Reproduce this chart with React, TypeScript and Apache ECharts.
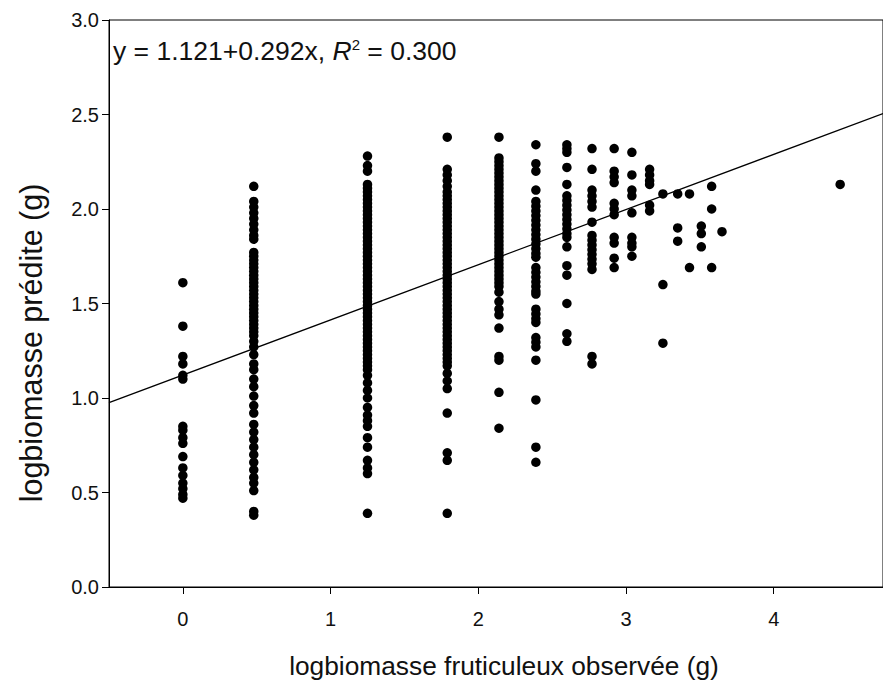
import React, { useEffect, useRef } from "react";
import * as echarts from "echarts";

// x positions of the observed columns (logbiomasse fruticuleux observée)
const xLevels = [0, 0.48, 1.25, 1.79, 2.14, 2.39, 2.6, 2.77, 2.92, 3.04, 3.16, 3.25, 3.35, 3.43, 3.51, 3.58, 3.65, 4.45];

// predicted values read from each column
const col000 = [1.61, 1.38, 1.22, 1.18, 1.12, 1.10, 0.85, 0.83, 0.79, 0.76, 0.69, 0.63, 0.59, 0.55, 0.52, 0.49, 0.47];
const col048 = [2.12, 2.04, 2.01, 1.98, 1.95, 1.92, 1.89, 1.86, 1.84, 1.77, 1.75, 1.73, 1.71, 1.69, 1.67, 1.65, 1.63, 1.61, 1.59, 1.57, 1.55, 1.53, 1.51, 1.49, 1.47, 1.45, 1.43, 1.41, 1.39, 1.37, 1.35, 1.33, 1.30, 1.27, 1.23, 1.18, 1.15, 1.10, 1.06, 1.01, 0.96, 0.92, 0.86, 0.82, 0.78, 0.74, 0.70, 0.66, 0.62, 0.58, 0.55, 0.51, 0.40, 0.38];
const col125 = [2.28, 2.23, 2.20, 2.13, 2.11, 2.09, 2.07, 2.05, 2.03, 2.01, 1.99, 1.97, 1.95, 1.93, 1.91, 1.89, 1.87, 1.85, 1.83, 1.81, 1.79, 1.77, 1.75, 1.73, 1.71, 1.69, 1.67, 1.65, 1.63, 1.61, 1.59, 1.57, 1.55, 1.53, 1.51, 1.49, 1.47, 1.45, 1.43, 1.41, 1.39, 1.37, 1.35, 1.33, 1.31, 1.29, 1.27, 1.25, 1.23, 1.21, 1.19, 1.17, 1.15, 1.12, 1.08, 1.04, 1.00, 0.95, 0.91, 0.88, 0.85, 0.79, 0.74, 0.67, 0.63, 0.60, 0.39];
const col179 = [2.38, 2.21, 2.18, 2.15, 2.12, 2.09, 2.07, 2.05, 2.03, 2.01, 1.99, 1.97, 1.95, 1.93, 1.91, 1.89, 1.87, 1.85, 1.83, 1.81, 1.79, 1.77, 1.75, 1.73, 1.71, 1.69, 1.67, 1.65, 1.63, 1.61, 1.59, 1.57, 1.55, 1.53, 1.51, 1.49, 1.47, 1.45, 1.43, 1.41, 1.39, 1.37, 1.35, 1.33, 1.31, 1.29, 1.27, 1.25, 1.23, 1.21, 1.19, 1.17, 1.13, 1.09, 1.05, 0.92, 0.71, 0.67, 0.39];
const col214 = [2.38, 2.27, 2.25, 2.23, 2.21, 2.19, 2.17, 2.15, 2.13, 2.11, 2.09, 2.07, 2.05, 2.03, 2.01, 1.99, 1.97, 1.95, 1.93, 1.91, 1.89, 1.87, 1.85, 1.83, 1.81, 1.79, 1.77, 1.75, 1.73, 1.71, 1.69, 1.67, 1.65, 1.63, 1.61, 1.59, 1.56, 1.51, 1.47, 1.44, 1.37, 1.22, 1.20, 1.03, 0.84];
const col239 = [2.34, 2.24, 2.20, 2.10, 2.04, 2.015, 1.99, 1.965, 1.94, 1.915, 1.89, 1.865, 1.84, 1.815, 1.79, 1.765, 1.745, 1.69, 1.665, 1.64, 1.615, 1.59, 1.565, 1.55, 1.47, 1.445, 1.42, 1.40, 1.32, 1.295, 1.27, 1.20, 0.99, 0.74, 0.66];
const col260 = [2.34, 2.32, 2.30, 2.22, 2.13, 2.07, 2.045, 2.02, 1.995, 1.97, 1.945, 1.92, 1.895, 1.87, 1.85, 1.80, 1.70, 1.65, 1.50, 1.34, 1.30];
const col277 = [2.32, 2.21, 2.10, 2.07, 2.04, 2.01, 1.93, 1.86, 1.835, 1.81, 1.785, 1.76, 1.735, 1.71, 1.68, 1.22, 1.18];
const col292 = [2.32, 2.20, 2.17, 2.14, 2.03, 2.00, 1.97, 1.85, 1.82, 1.74, 1.69];
const col304 = [2.30, 2.18, 2.10, 2.07, 1.98, 1.85, 1.82, 1.80, 1.75];
const col316 = [2.21, 2.18, 2.15, 2.13, 2.02, 1.99];
const col325 = [2.08, 1.60, 1.29];
const col335 = [2.08, 1.90, 1.83];
const col343 = [2.08, 1.69];
const col351 = [1.91, 1.87, 1.80];
const col358 = [2.12, 2.00, 1.69];
const col365 = [1.88];
const col445 = [2.13];

const columns = [col000, col048, col125, col179, col214, col239, col260, col277, col292, col304, col316, col325, col335, col343, col351, col358, col365, col445];

// regression
const intercept = 1.121;
const slope = 0.292;
const xMin = -0.5;
const xMax = 4.74;

const xTicks = [0, 1, 2, 3, 4];

const FONT = "'Liberation Sans', Arial, Helvetica, sans-serif";

export default function App() {
  const ref = useRef<HTMLDivElement>(null);
  useEffect(() => {
    if (!ref.current) return;
    const chart = echarts.init(ref.current, undefined, { renderer: "svg" });
    const points: number[][] = [];
    columns.forEach((col, i) => col.forEach((v) => points.push([xLevels[i], v])));
    chart.setOption({
      animation: false,
      backgroundColor: "#fff",
      grid: { left: 109, right: -3, top: 20, bottom: 97, show: true, borderColor: "#000", borderWidth: 1 },
      xAxis: {
        type: "value",
        min: xMin,
        max: xMax,
        splitLine: { show: false },
        axisLine: { onZero: false, lineStyle: { color: "#000", width: 1 } },
        axisTick: { show: true, inside: false, length: 7, customValues: xTicks, lineStyle: { color: "#000" } },
        axisLabel: { customValues: xTicks, color: "#111", fontSize: 20, fontFamily: FONT, margin: 22 },
      },
      yAxis: {
        type: "value",
        min: 0,
        max: 3,
        interval: 0.5,
        splitLine: { show: false },
        axisLine: { show: true, onZero: false, lineStyle: { color: "#000", width: 1 } },
        axisTick: { show: true, inside: false, length: 7, lineStyle: { color: "#000" } },
        axisLabel: { color: "#111", fontSize: 20, fontFamily: FONT, margin: 10, formatter: (v: number) => v.toFixed(1) },
      },
      graphic: [
        {
          type: "text",
          left: 113,
          top: 37,
          style: {
            text: "{a|y = 1.121+0.292x, }{i|R}{s|2}{a| = 0.300}",
            rich: {
              a: { fontSize: 26.5, fontFamily: FONT, fill: "#111" },
              i: { fontSize: 26.5, fontFamily: FONT, fontStyle: "italic", fill: "#111" },
              s: { fontSize: 15, fontFamily: FONT, fill: "#111", verticalAlign: "top", padding: [0, 0, 11, 0] },
            },
          },
        },
        {
          type: "text",
          x: 504,
          y: 666,
          style: { text: "logbiomasse fruticuleux observée (g)", fontSize: 26.3, fontFamily: FONT, fill: "#111", align: "center", verticalAlign: "middle" },
        },
        {
          type: "text",
          x: 31,
          y: 343,
          rotation: Math.PI / 2,
          style: { text: "logbiomasse prédite (g)", fontSize: 30.5, fontFamily: FONT, fill: "#111", align: "center", verticalAlign: "middle" },
        },
      ],
      series: [
        {
          type: "scatter",
          data: points,
          symbol: "circle",
          symbolSize: 9.5,
          itemStyle: { color: "#000", opacity: 1 },
          z: 2,
        },
        {
          type: "line",
          data: [
            [xMin, intercept + slope * xMin],
            [xMax, intercept + slope * xMax],
          ],
          symbol: "none",
          lineStyle: { color: "#000", width: 1.3 },
          z: 3,
          silent: true,
        },
      ],
    });
    return () => chart.dispose();
  }, []);
  return <div ref={ref} style={{ position: "fixed", left: 0, top: 0, width: 883, height: 684 }} />;
}
